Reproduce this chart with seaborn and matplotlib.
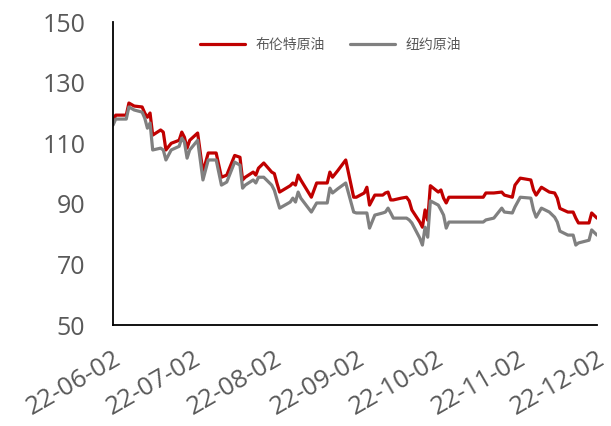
import pandas as pd
import matplotlib.pyplot as plt
import matplotlib.dates as mdates
import seaborn as sns

sns.set_theme(style="white")
plt.rcParams['font.family'] = ['Open Sans', 'Noto Sans CJK SC', 'DejaVu Sans']

# 日期与价格 (美元/桶)
dates = ['2022-06-02', '2022-06-03', '2022-06-07', '2022-06-08', '2022-06-10',
         '2022-06-13', '2022-06-14', '2022-06-15', '2022-06-16', '2022-06-17',
         '2022-06-20', '2022-06-21', '2022-06-22', '2022-06-24', '2022-06-27',
         '2022-06-28', '2022-06-29', '2022-06-30', '2022-07-01', '2022-07-04',
         '2022-07-06', '2022-07-08', '2022-07-11', '2022-07-13', '2022-07-15',
         '2022-07-18', '2022-07-20', '2022-07-21', '2022-07-22', '2022-07-25',
         '2022-07-26', '2022-07-27', '2022-07-29', '2022-08-01', '2022-08-02',
         '2022-08-03', '2022-08-04', '2022-08-08', '2022-08-09', '2022-08-10',
         '2022-08-11', '2022-08-12', '2022-08-16', '2022-08-18', '2022-08-22',
         '2022-08-23', '2022-08-24', '2022-08-26', '2022-08-29', '2022-09-01',
         '2022-09-02', '2022-09-05', '2022-09-06', '2022-09-07', '2022-09-09',
         '2022-09-12', '2022-09-13', '2022-09-14', '2022-09-15', '2022-09-16',
         '2022-09-19', '2022-09-21', '2022-09-22', '2022-09-23', '2022-09-26',
         '2022-09-27', '2022-09-28', '2022-09-29', '2022-09-30', '2022-10-03',
         '2022-10-04', '2022-10-05', '2022-10-06', '2022-10-07', '2022-10-20',
         '2022-10-21', '2022-10-24', '2022-10-27', '2022-10-28', '2022-10-31',
         '2022-11-01', '2022-11-03', '2022-11-07', '2022-11-08', '2022-11-09',
         '2022-11-11', '2022-11-14', '2022-11-16', '2022-11-17', '2022-11-18',
         '2022-11-21', '2022-11-23', '2022-11-24', '2022-11-25', '2022-11-29',
         '2022-11-30', '2022-12-02']

brent = [117.0, 119.3, 119.3, 123.3, 122.3, 122.0, 120.0, 118.6, 120.0, 112.7,
         114.4, 113.7, 107.8, 110.0, 111.0, 113.7, 112.0, 108.4, 111.0, 113.4,
         100.5, 106.8, 106.8, 98.8, 99.5, 106.0, 105.4, 97.9, 98.8, 100.5,
         99.5, 101.8, 103.5, 100.5, 100.0, 96.8, 93.9, 96.0, 96.9, 96.2,
         99.5, 97.9, 92.2, 96.9, 96.9, 100.5, 98.8, 101.0, 104.5, 92.2,
         92.2, 93.6, 95.5, 89.6, 92.9, 92.9, 93.6, 93.9, 91.3, 91.3,
         91.9, 92.2, 91.0, 88.0, 84.0, 82.3, 88.0, 84.6, 96.0, 93.9,
         94.6, 91.9, 90.3, 92.2, 92.2, 93.6, 93.6, 93.9, 92.9, 92.2,
         96.2, 98.5, 97.9, 94.6, 92.9, 95.5, 93.9, 93.6, 91.9, 88.5,
         87.3, 87.3, 85.3, 83.7, 83.7, 87.0, 85.3]

wti = [116.0, 118.0, 118.0, 122.0, 121.0, 120.3, 118.3, 115.0, 116.7, 107.8,
       108.4, 107.8, 104.5, 107.8, 109.0, 111.7, 110.4, 105.1, 107.8, 111.0,
       97.9, 104.5, 104.5, 96.2, 97.2, 103.8, 102.8, 95.2, 96.2, 97.9,
       96.9, 98.8, 98.8, 96.2, 94.5, 91.5, 88.6, 90.6, 91.9, 90.6,
       93.9, 91.9, 87.3, 90.3, 90.3, 95.2, 93.6, 95.0, 96.9, 87.3,
       87.0, 87.0, 87.0, 82.0, 86.3, 87.0, 87.3, 88.6, 87.0, 85.3,
       85.3, 85.3, 84.7, 83.7, 78.7, 76.4, 82.3, 79.0, 91.0, 89.6,
       88.0, 86.3, 82.0, 84.0, 84.0, 84.7, 85.3, 88.6, 87.3, 87.0,
       89.0, 92.2, 91.9, 88.0, 85.6, 88.6, 87.3, 85.6, 84.0, 81.0,
       79.7, 79.7, 76.4, 77.1, 78.0, 81.4, 79.7]

tick_dates = ['2022-06-02', '2022-07-02', '2022-08-02', '2022-09-02',
              '2022-10-02', '2022-11-02', '2022-12-02']

df = pd.DataFrame({'date': pd.to_datetime(dates), 'brent': brent, 'wti': wti})

fig = plt.figure(figsize=(6.11, 4.26), dpi=100)
ax = fig.add_axes([0.185, 0.237, 0.792, 0.711])

sns.lineplot(data=df, x='date', y='brent', ax=ax, color='#C00000',
             linewidth=2.3, label='布伦特原油')
sns.lineplot(data=df, x='date', y='wti', ax=ax, color='#808080',
             linewidth=2.3, label='纽约原油')

ticks = pd.to_datetime(tick_dates)
ax.set_xlim(ticks[0], ticks[-1])
ax.set_xticks(ticks)
ax.xaxis.set_major_formatter(mdates.DateFormatter('%y-%m-%d'))
ax.set_ylim(50, 150)
ax.set_yticks([50, 70, 90, 110, 130, 150])
ax.set_xlabel('')
ax.set_ylabel('')

for s in ['top', 'right']:
    ax.spines[s].set_visible(False)
for s in ['left', 'bottom']:
    ax.spines[s].set_color('black')
    ax.spines[s].set_linewidth(1.3)

ax.tick_params(axis='y', direction='in', length=7, width=1.3,
               colors='black', labelcolor='#595959', labelsize=18, pad=20)
ax.tick_params(axis='x', direction='in', length=6, width=1.3,
               colors='black', labelcolor='#595959', labelsize=18.5, pad=15)
plt.setp(ax.get_xticklabels(), rotation=30, ha='right', rotation_mode='anchor')

ax.legend(loc='upper center', bbox_to_anchor=(0.45, 0.99), ncol=2,
          frameon=False, handlelength=3.2, columnspacing=1.8,
          labelcolor='#595959', prop={'family': ['Noto Sans CJK SC'], 'size': 10})

fig.savefig('out.png', dpi=100)
